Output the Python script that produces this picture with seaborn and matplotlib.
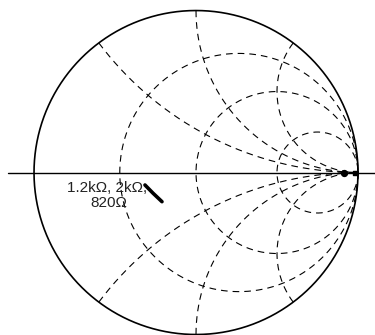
import numpy as np
import pandas as pd
import matplotlib
matplotlib.use('Agg')
import matplotlib.pyplot as plt
import seaborn as sns

# chart grid values (normalized impedance)
resistances = [0.36, 1.0, 3.0]
reactances = [0.5, 1.0, 2.0, -0.5, -1.0, -2.0]

# marked points on the real axis (reflection coefficient)
marker_gamma = [0.914, 0.98]
marker_shapes = ['o', 's']

# thick trace next to the label
trace_u = [-0.315, -0.265, -0.21]
trace_v = [-0.077, -0.128, -0.18]

label_lines = ['1.2k\u03a9, 2k\u03a9,', '820\u03a9']


def gamma(z):
    g = (z - 1) / (z + 1)
    return g.real, g.imag


def r_circle(r):
    xs = np.tan(np.linspace(-np.pi / 2 + 1e-4, np.pi / 2 - 1e-4, 800))
    u, v = gamma(r + 1j * xs)
    return pd.DataFrame({'u': u, 'v': v})


def x_arc(x):
    t = np.linspace(0, 0.9999, 600)
    rs = t / (1 - t)
    u, v = gamma(rs + 1j * x)
    return pd.DataFrame({'u': u, 'v': v})


sns.set_style('white')
plt.rcParams['font.family'] = ['Liberation Sans', 'DejaVu Sans']

fig = plt.figure(figsize=(3.75, 3.35), dpi=100)
ax = fig.add_axes([0, 0, 1, 1])

dash = dict(color='black', lw=0.8, dashes=(6, 4.5))

for r in resistances:
    sns.lineplot(data=r_circle(r), x='u', y='v', sort=False, ax=ax,
                 estimator=None, **dash)

for x in reactances:
    sns.lineplot(data=x_arc(x), x='u', y='v', sort=False, ax=ax,
                 estimator=None, **dash)

# outer circle r = 0
th = np.linspace(0, 2 * np.pi, 800)
outer = pd.DataFrame({'u': np.cos(th), 'v': np.sin(th)})
sns.lineplot(data=outer, x='u', y='v', sort=False, estimator=None, ax=ax,
             color='black', lw=1.2)

# real axis
ax.axhline(0, xmin=0.022, xmax=1, color='black', lw=1.0)

# thick trace
sns.lineplot(x=trace_u, y=trace_v, sort=False, estimator=None, ax=ax,
             color='black', lw=2.6)

for g, m in zip(marker_gamma, marker_shapes):
    ax.scatter([g], [0], marker=m, s=18 if m == 'o' else 6,
               color='black', zorder=5)

ax.text(-0.552, -0.120, label_lines[0], ha='center', va='baseline',
        fontsize=11, color='#222222')
ax.text(-0.540, -0.213, label_lines[1], ha='center', va='baseline',
        fontsize=11, color='#222222')

ax.set_xlim(-1.21, 1.105)
ax.set_ylim(-1.003, 1.065)
ax.set_aspect('equal')
ax.axis('off')

fig.savefig('out.png', dpi=100)
